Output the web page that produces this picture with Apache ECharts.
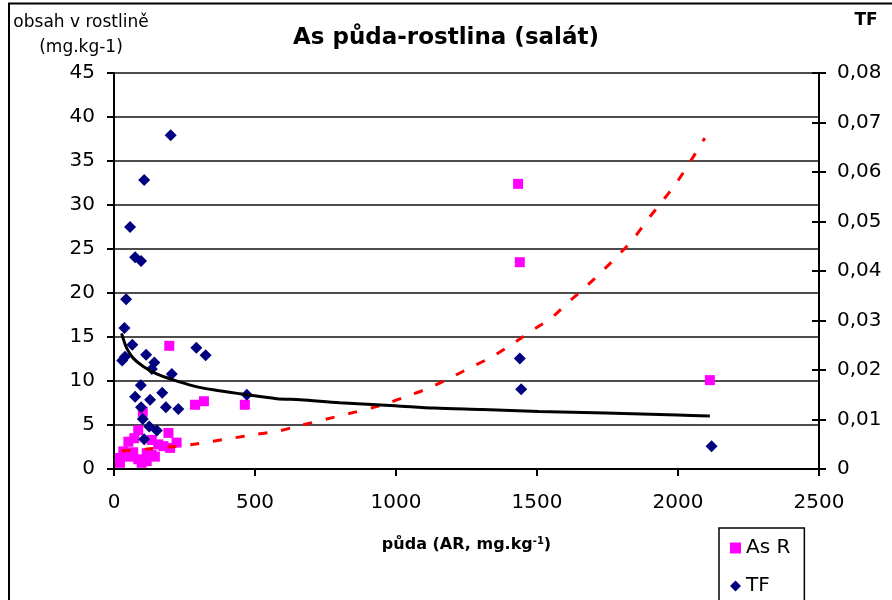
<!DOCTYPE html>
<html>
<head>
<meta charset="utf-8">
<title>As půda-rostlina (salát)</title>
<script src="https://cdn.jsdelivr.net/npm/echarts@6/dist/echarts.min.js"></script>
<style>
  html, body { margin: 0; padding: 0; background: #fff; }
  #chart { width: 892px; height: 600px; }
</style>
</head>
<body>
<div id="chart"></div>
<script>
// As content in soil (x) vs. in lettuce (left axis) and transfer factor TF (right axis)
const asSoil  = [1433, 1439, 2113, 196, 287, 319, 464, 102, 86, 193, 222, 51, 72, 134,
                 157, 175, 199, 33, 68, 116, 145, 21, 57, 86, 116, 21, 134, 98];
const asPlant = [32.4, 23.5, 10.1, 14.0, 7.3, 7.7, 7.3, 6.5, 4.4, 4.1, 3.0, 3.1, 3.5, 3.3,
                 2.8, 2.6, 2.4, 2.0, 1.9, 1.8, 1.4, 1.25, 1.4, 1.1, 0.9, 0.7, 1.6, 0.7];

const tfSoil  = [201, 107, 57, 75, 96, 43, 37, 65, 39, 29, 114, 143, 134, 292, 325, 205,
                 95, 75, 128, 171, 96, 184, 228, 102, 125, 152, 107, 471, 1439, 1444, 2119];
const tfValue = [0.0674, 0.0584, 0.0489, 0.0428, 0.0420, 0.0343, 0.0285, 0.0251, 0.0227,
                 0.0219, 0.0231, 0.0215, 0.0202, 0.0245, 0.0230, 0.0192, 0.0169, 0.0146,
                 0.0140, 0.0154, 0.0125, 0.0125, 0.0121, 0.0101, 0.0086, 0.0078, 0.0060,
                 0.0150, 0.0223, 0.0161, 0.0046];

// trend line of As R (dashed red)
const asTrendSoil  = [27, 39, 116, 195, 270, 346, 423, 500, 577, 648, 955, 1032, 1109, 1183,
                      1256, 1337, 1412, 1481, 1552, 1613, 1673, 1729, 1788, 1838, 1889, 1936,
                      1992, 2043, 2095];
const asTrendValue = [2.05, 2.08, 2.27, 2.50, 2.76, 3.13, 3.52, 3.93, 4.27, 4.84, 7.3, 8.2,
                      9.1, 10.2, 11.4, 12.7, 14.2, 15.7, 17.2, 19.0, 20.7, 22.4, 24.3, 26.0,
                      28.2, 30.1, 32.4, 34.9, 37.6];

// trend line of TF (solid black)
const tfTrendSoil  = [27, 45, 68, 104, 151, 210, 281, 352, 447, 577, 660, 800, 996, 1136,
                      1307, 1507, 1743, 1998, 2113];
const tfTrendValue = [0.0274, 0.0244, 0.0224, 0.0207, 0.0192, 0.0180, 0.0168, 0.0160, 0.0152,
                      0.0142, 0.0140, 0.0134, 0.0128, 0.0123, 0.0120, 0.0116, 0.0113, 0.0109,
                      0.0107];

const soilTicks  = ['0', '500', '1000', '1500', '2000', '2500'];
const plantTicks = ['0', '5', '10', '15', '20', '25', '30', '35', '40', '45'];
const tfTicks    = ['0', '0,01', '0,02', '0,03', '0,04', '0,05', '0,06', '0,07', '0,08'];

const FONT = 'DejaVu Sans';
const pairs = (xs, ys) => xs.map((x, i) => [x, ys[i]]);

const chart = echarts.init(document.getElementById('chart'));
chart.setOption({
  animation: false,
  backgroundColor: '#fff',
  title: {
    text: 'As půda-rostlina (salát)',
    left: 'center',
    top: 22,
    padding: [5, 0, 5, 24],
    textStyle: { fontFamily: FONT, fontSize: 23, fontWeight: 'bold', color: '#000' }
  },
  grid: { left: 114, right: 73, top: 73, bottom: 131, containLabel: false },
  legend: {
    orient: 'vertical',
    left: 719,
    top: 528,
    height: 140,
    padding: [8, 14, 22, 11],
    itemGap: 14,
    itemWidth: 11,
    itemHeight: 11,
    borderColor: '#000',
    borderWidth: 1.5,
    backgroundColor: '#fff',
    textStyle: { fontFamily: FONT, fontSize: 20, color: '#000', lineHeight: 24 },
    data: [{ name: 'As R', icon: 'rect' }, { name: 'TF', icon: 'diamond' }]
  },
  xAxis: {
    type: 'value',
    min: 0, max: 2500, interval: 500,
    name: '{b|půda (AR, mg.kg}{s|-1}{b|)}',
    nameLocation: 'middle',
    nameGap: 67,
    nameTextStyle: {
      rich: {
        b: { fontFamily: FONT, fontSize: 16, fontWeight: 'bold', color: '#000', lineHeight: 18 },
        s: { fontFamily: FONT, fontSize: 10, fontWeight: 'bold', color: '#000', lineHeight: 18, verticalAlign: 'top' }
      }
    },
    axisLine: { show: true, lineStyle: { color: '#000', width: 2 } },
    axisTick: { show: true, length: 7, lineStyle: { color: '#000', width: 2 } },
    axisLabel: {
      margin: 24, color: '#000', fontFamily: FONT, fontSize: 20,
      formatter: v => soilTicks[Math.round(v / 500)]
    },
    splitLine: { show: false }
  },
  yAxis: [
    {
      type: 'value',
      min: 0, max: 45, interval: 5,
      position: 'left',
      axisLine: { show: true, lineStyle: { color: '#000', width: 2 } },
      axisTick: { show: true, length: 7, lineStyle: { color: '#000', width: 2 } },
      axisLabel: {
        margin: 19, color: '#000', fontFamily: FONT, fontSize: 20,
        formatter: v => plantTicks[Math.round(v / 5)]
      },
      splitLine: { show: true, lineStyle: { color: '#111', width: 1.5 } }
    },
    {
      type: 'value',
      min: 0, max: 0.08, interval: 0.01,
      position: 'right',
      axisLine: { show: true, lineStyle: { color: '#000', width: 2 } },
      axisTick: { show: true, length: 7, lineStyle: { color: '#000', width: 2 } },
      axisLabel: {
        margin: 18, color: '#000', fontFamily: FONT, fontSize: 20,
        formatter: v => tfTicks[Math.round(v * 100)]
      },
      splitLine: { show: false }
    },
    {
      // inner half of the crossing ticks on the TF axis
      type: 'value',
      min: 0, max: 0.08, interval: 0.01,
      position: 'right',
      axisLine: { show: false },
      axisTick: { show: true, inside: true, length: 7, lineStyle: { color: '#000', width: 2 } },
      axisLabel: { show: false },
      splitLine: { show: false }
    }
  ],
  graphic: [
    {
      type: 'rect',
      silent: true,
      z: -10,
      shape: { x: 9, y: 3.5, width: 1000, height: 1000 },
      style: { fill: 'none', stroke: '#000', lineWidth: 2 }
    },
    {
      type: 'text',
      x: 81, y: 10,
      style: {
        text: 'obsah v rostlině\n(mg.kg-1)',
        align: 'center', verticalAlign: 'top',
        fontFamily: FONT, fontSize: 17, lineHeight: 25, fill: '#000'
      }
    },
    {
      type: 'text',
      x: 866, y: 21,
      style: {
        text: 'TF',
        align: 'center', verticalAlign: 'middle',
        fontFamily: FONT, fontSize: 17, fontWeight: 'bold', fill: '#000'
      }
    }
  ],
  series: [
    {
      name: 'As R',
      type: 'scatter',
      symbol: 'rect',
      symbolSize: 10,
      z: 2,
      itemStyle: { color: '#FF00FF', opacity: 1 },
      data: pairs(asSoil, asPlant)
    },
    {
      name: 'TF',
      type: 'scatter',
      yAxisIndex: 1,
      symbol: 'diamond',
      symbolSize: 12,
      z: 3,
      itemStyle: { color: '#000080', opacity: 1 },
      data: pairs(tfSoil, tfValue)
    },
    {
      name: 'As R trend',
      type: 'line',
      smooth: 0.3,
      showSymbol: false,
      z: 4,
      lineStyle: { color: '#FF0000', width: 3, type: [9, 14] },
      data: pairs(asTrendSoil, asTrendValue)
    },
    {
      name: 'TF trend',
      type: 'line',
      yAxisIndex: 1,
      smooth: 0.3,
      showSymbol: false,
      z: 4,
      lineStyle: { color: '#000', width: 3 },
      data: pairs(tfTrendSoil, tfTrendValue)
    }
  ]
});
</script>
</body>
</html>
